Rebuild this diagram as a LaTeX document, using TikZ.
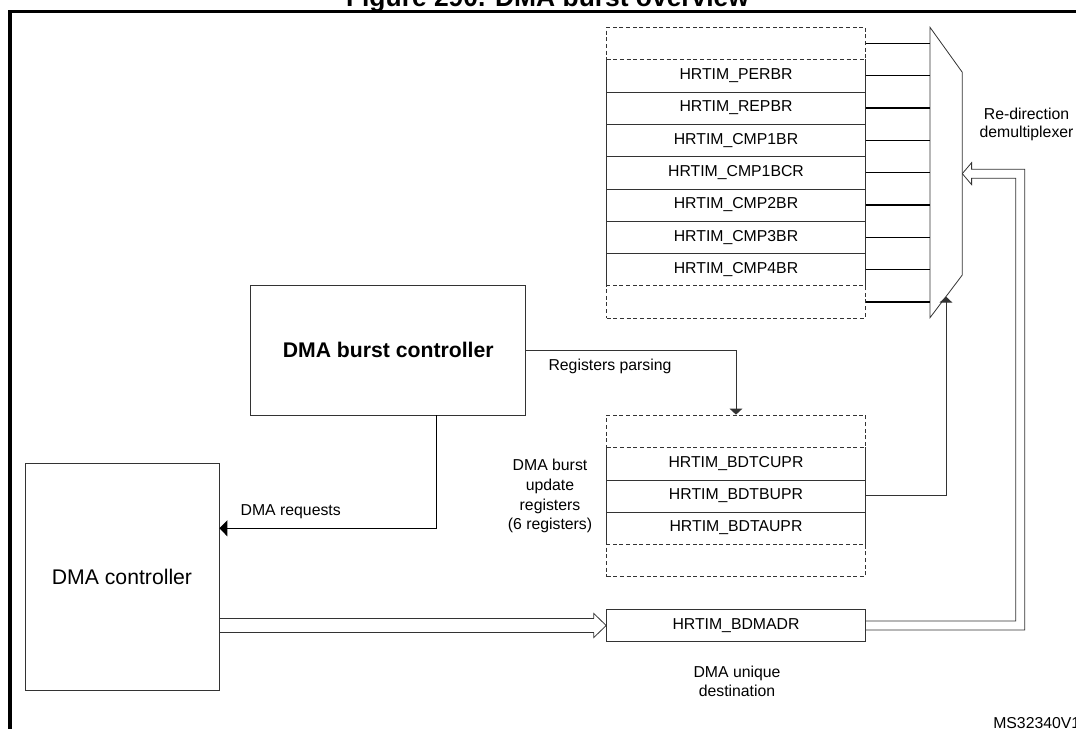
\documentclass[tikz,border=0pt]{standalone}
\usepackage{fontspec}
\setmainfont{Liberation Sans}
\usetikzlibrary{arrows.meta,positioning,calc}

\begin{document}
\begin{tikzpicture}[x=0.75pt, y=-0.75pt, node distance=24.23pt, on grid,
    font=\fontsize{11.85}{14.2}\selectfont,
    thinline/.style={draw=black!80, line width=0.6pt},
    block/.style={thinline, inner sep=0pt},
    reg/.style={minimum width=194.1pt, minimum height=24.23pt, inner sep=0pt},
    slot/.style={reg, thinline, dash pattern=on 3pt off 2pt},
    tap/.style={draw=black, line width=1.1pt},
    feed/.style={thinline, -{Triangle[length=4.5pt, width=9.5pt]}},
    req/.style={draw=black, line width=1pt, -{Triangle[length=6pt, width=12pt]}},
    bus/.style={thinline, double, double distance=#1},
    big/.style={font=\fontsize{15.9}{19}\selectfont},
    bigbold/.style={font=\bfseries\fontsize{15.9}{19}\selectfont}]
    \useasboundingbox (0,0) rectangle (1076,729);
    \node[anchor=base, font=\bfseries\fontsize{19.8}{24}\selectfont] (title) at (547.5,6.5) {Figure 290. DMA burst overview};
    \draw[line width=2.3pt] (10,745) -- (10,11.5) -- (1090,11.5);
    % register stack feeding the demultiplexer
    \node[slot] (topslot) at (736,43.4) {};
    \node[reg, below=of topslot] (perbr) {HRTIM\_PERBR};
    \node[reg, below=of perbr] (repbr) {HRTIM\_REPBR};
    \node[reg, below=of repbr] (cmp1) {HRTIM\_CMP1BR};
    \node[reg, below=of cmp1] (cmp1c) {HRTIM\_CMP1BCR};
    \node[reg, below=of cmp1c] (cmp2) {HRTIM\_CMP2BR};
    \node[reg, below=of cmp2] (cmp3) {HRTIM\_CMP3BR};
    \node[reg, below=of cmp3] (cmp4) {HRTIM\_CMP4BR};
    \node[slot, below=of cmp4] (botslot) {};
    \draw[thinline] (perbr.north west) -- (cmp4.south west) (perbr.north east) -- (cmp4.south east);
    \foreach \r in {perbr,repbr,cmp1,cmp1c,cmp2,cmp3}
      \draw[thinline] (\r.south west) -- (\r.south east);
    % update registers
    \node[slot] (updslot) at (736,431.2) {};
    \node[reg, below=of updslot] (bdtcu) {HRTIM\_BDTCUPR};
    \node[reg, below=of bdtcu] (bdtbu) {HRTIM\_BDTBUPR};
    \node[reg, below=of bdtbu] (bdtau) {HRTIM\_BDTAUPR};
    \node[slot, below=of bdtau] (updend) {};
    \draw[thinline] (bdtcu.north west) -- (bdtau.south west) (bdtcu.north east) -- (bdtau.south east);
    \foreach \r in {bdtcu,bdtbu}
      \draw[thinline] (\r.south west) -- (\r.south east);
    \node[reg, block] (bdmadr) at (736,625.5) {HRTIM\_BDMADR};
    \node[block, bigbold, minimum width=206.25pt, minimum height=97pt] (burst) at (388.2,350.3) {DMA burst controller};
    \node[block, big, minimum width=145.5pt, minimum height=170pt] (dmactl) at (122,576.7) {DMA controller};
    % demultiplexer
    \coordinate (muxtl) at (930,27.3);
    \coordinate (muxtr) at (962.3,72.3);
    \coordinate (muxbr) at (962.3,275);
    \coordinate (muxbl) at (930,317.7);
    \draw[thinline] (muxtl) -- (muxtr) -- (muxbr) -- (muxbl) -- cycle;
    \coordinate (muxfeed) at ($(muxbr)!0.505!(muxbl)$);
    \coordinate (muxin) at ($(muxtr)!0.5!(muxbr)$);
    \foreach \r in {topslot,perbr,repbr,cmp1,cmp1c,cmp2,cmp3,cmp4,botslot}
      \draw[tap] (\r.east) -- (\r.east -| muxtl);
    % connections
    \draw[feed] (burst.east) -| (updslot.north);
    \draw[req] ([xshift=36.4pt]burst.south) |- ([yshift=36.3pt]dmactl.east);
    \draw[feed] (bdtbu.east) -| (muxfeed);
    \coordinate (instart) at ([xshift=0.3pt]dmactl.east |- bdmadr.west);
    \coordinate (inbase) at ([xshift=-9.3pt]bdmadr.west);
    \draw[bus=9.9pt] (instart) -- (inbase);
    \draw[thinline] ([yshift=5.25pt]inbase) -- ([yshift=9pt]inbase) -- (bdmadr.west) -- ([yshift=-9pt]inbase) -- ([yshift=-5.25pt]inbase);
    \coordinate (outbend) at ([xshift=115.9pt]bdmadr.east);
    \coordinate (outbase) at ([xshift=7pt]muxin);
    \coordinate (outcorner) at ($(outbend |- outbase)+(4.5,-4.5)$);
    \coordinate (incorner) at ($(outbend |- outbase)+(-4.5,4.5)$);
    \draw[thinline] ($(bdmadr.east)+(0,4.5)$) -| (outcorner) -- ($(outbase)+(0,-4.5)$) -- ($(outbase)+(0,-11)$) -- (muxin);
    \draw[thinline] ($(bdmadr.east)+(0,-4.5)$) -| (incorner) -- ($(outbase)+(0,4.5)$) -- ($(outbase)+(0,11)$) -- (muxin);
    % labels
    \node[align=center, font=\fontsize{11.85}{13.7}\selectfont] (muxlabel) at (1026.5,124.2) {Re-direction\\demultiplexer};
    \node (parselabel) at (610,366.7) {Registers parsing};
    \node (reqlabel) at (290.7,511.7) {DMA requests};
    \node[align=center, font=\fontsize{11.85}{14.8}\selectfont] (updlabel) at (550,496.2) {DMA burst\\update\\registers\\(6 registers)};
    \node[align=center] (destlabel) at (737,681) {DMA unique\\destination};
    \node[anchor=base west, inner sep=0pt] (docref) at (993,728) {MS32340V1};
  \end{tikzpicture}
\end{document}
